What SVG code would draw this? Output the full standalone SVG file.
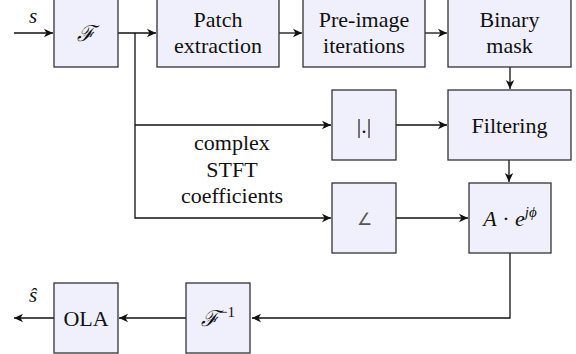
<svg xmlns="http://www.w3.org/2000/svg" width="576" height="354" viewBox="0 0 576 354">
<defs>
<marker id="arr" markerUnits="userSpaceOnUse" markerWidth="12" markerHeight="12" viewBox="-10 -6 12 12" refX="0" refY="0" orient="auto">
<path d="M0,0 L-9,-4.2 L-6.5,0 L-9,4.2 Z" fill="#111"/>
</marker>
<style>
.box{fill:#f0f0fc;stroke:#333;stroke-width:1.3}
.c{fill:none;stroke:#111;stroke-width:1.3;marker-end:url(#arr)}
.t{font-family:'Liberation Serif',serif;font-size:22px;fill:#111;text-anchor:middle}
.i{font-style:italic}
.sup{font-size:15px;font-style:normal}
</style>
</defs>
<g id="connectors">
<path class="c" d="M14,33 H53"/>
<path class="c" d="M118,33 H156"/>
<path class="c" d="M279,33 H302"/>
<path class="c" d="M425,33 H447"/>
<path class="c" d="M510,67 V89"/>
<path class="c" d="M135,33 V218 H331"/>
<path class="c" d="M135,125 H331"/>
<path class="c" d="M396,125 H447"/>
<path class="c" d="M509,160 V182"/>
<path class="c" d="M396,218 H468"/>
<path class="c" d="M510,253 V318 H252"/>
<path class="c" d="M186,318 H119"/>
<path class="c" d="M54,318 H14"/>
<text class="t i" x="33" y="23" style="font-size:21px">s</text>
<text class="t i" x="33" y="302" style="font-size:21px">ŝ</text>
<text class="t" x="232" y="150">complex</text>
<text class="t" x="232" y="177">STFT</text>
<text class="t" x="232" y="203">coefficients</text>
</g>
<g id="fourier">
<rect class="box" x="54" y="-2" width="64" height="69"/>
<text class="t i" x="86" y="41">ℱ</text>
</g>
<g id="patch">
<rect class="box" x="157" y="-2" width="122" height="69"/>
<text class="t" x="218" y="27">Patch</text>
<text class="t" x="218" y="53">extraction</text>
</g>
<g id="preimage">
<rect class="box" x="303" y="-2" width="122" height="69"/>
<text class="t" x="364" y="27">Pre-image</text>
<text class="t" x="364" y="53">iterations</text>
</g>
<g id="binary">
<rect class="box" x="448" y="-2" width="123" height="69"/>
<text class="t" x="509.5" y="27">Binary</text>
<text class="t" x="509.5" y="53">mask</text>
</g>
<g id="abs">
<rect class="box" x="332" y="90" width="64" height="70"/>
<text class="t" x="364" y="133">|.|</text>
</g>
<g id="filtering">
<rect class="box" x="448" y="90" width="123" height="70"/>
<text class="t" x="509.5" y="133">Filtering</text>
</g>
<g id="angle">
<rect class="box" x="332" y="183" width="64" height="70"/>
<text class="t" x="364" y="225" style="font-size:17px;fill:#555">∠</text>
</g>
<g id="recombine">
<rect class="box" x="469" y="183" width="82" height="70"/>
<text class="t i" x="510" y="226">A<tspan style="font-style:normal"> · </tspan>e<tspan class="sup i" style="font-style:italic" dy="-9">jϕ</tspan></text>
</g>
<g id="inverse">
<rect class="box" x="186" y="283" width="64" height="70"/>
<text class="t" x="218" y="326"><tspan class="i">ℱ</tspan><tspan class="sup" dy="-9">−1</tspan></text>
</g>
<g id="ola">
<rect class="box" x="54" y="283" width="64" height="70"/>
<text class="t" x="86" y="326">OLA</text>
</g>
</svg>
